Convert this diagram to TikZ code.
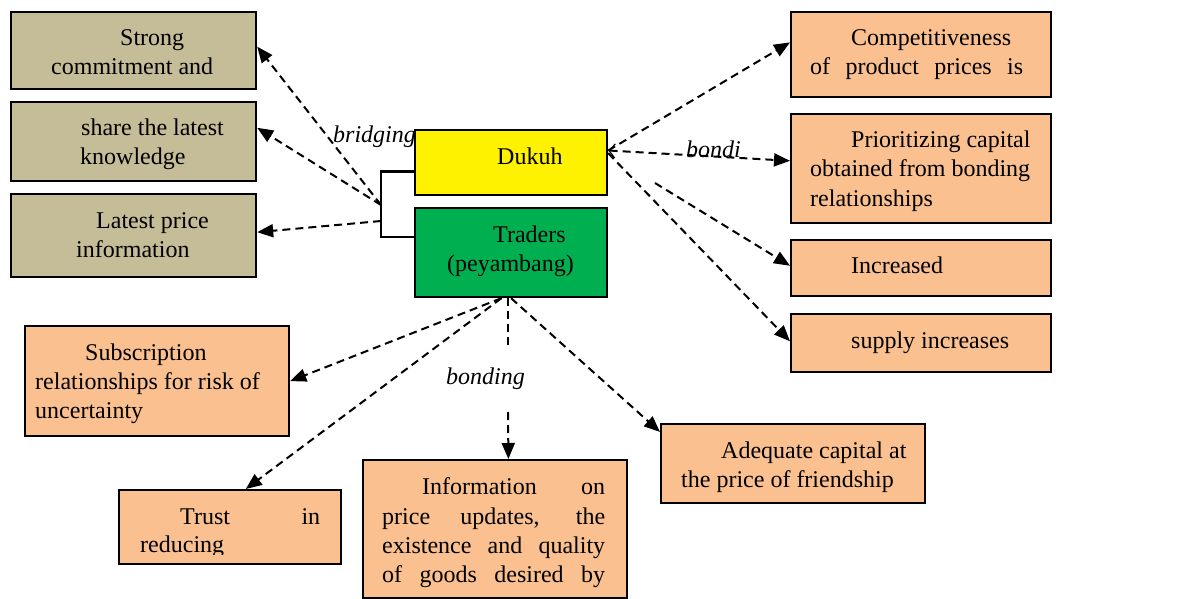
\documentclass[tikz,border=0pt]{standalone}
\usepackage{fontspec}
\setmainfont{Liberation Serif}
\usetikzlibrary{arrows.meta,calc}
\definecolor{tanfill}{HTML}{C4BD97}
\definecolor{orfill}{HTML}{FAC090}
\definecolor{grfill}{HTML}{00B050}
\begin{document}
\begin{tikzpicture}[x=1pt,y=-1pt,
  boxbase/.style={draw=black, line width=2.2pt, anchor=north west, inner sep=0pt},
  tanbox/.style={boxbase, fill=tanfill},
  orbox/.style={boxbase, fill=orfill},
  txt/.style={anchor=base west, inner sep=0pt, font=\fontsize{24}{29}\selectfont},
  itxt/.style={txt, font=\fontsize{24}{29}\selectfont\itshape},
  conn/.style={line width=2pt, dash pattern=on 8pt off 5pt, -{Triangle[length=16pt,width=13pt]}},
  plainconn/.style={line width=2pt, dash pattern=on 8pt off 5pt},
  brk/.style={line width=2.5pt}]
\useasboundingbox (0,0) rectangle (1184,599);

% left tan boxes
\node[tanbox, minimum width=245, minimum height=77] (L1) at (10,11) {};
\node[tanbox, minimum width=245, minimum height=79] (L2) at (10,101) {};
\node[tanbox, minimum width=245, minimum height=83] (L3) at (10,193) {};
\node[txt] (L1a) at (120,46) {Strong};
\node[txt] (L1b) at (51,75) {commitment and};
\node[txt] (L2a) at (81,136) {share the latest};
\node[txt] (L2b) at (80,165) {knowledge};
\node[txt] (L3a) at (96,228) {Latest price};
\node[txt] (L3b) at (76,257) {information};

% central boxes
\node[boxbase, fill=yellow, minimum width=192, minimum height=65] (Dukuh) at (414,129) {};
\node[boxbase, fill=grfill, minimum width=192, minimum height=89] (Traders) at (414,207) {};
\node[txt] (Da) at (497,165) {Dukuh};
\node[txt] (Ta) at (493,242) {Traders};
\node[txt] (Tb) at (447,271) {(peyambang)};

% right boxes
\node[orbox, minimum width=260, minimum height=85] (R1) at (790,11) {};
\node[orbox, minimum width=260, minimum height=109] (R2) at (790,113) {};
\node[orbox, minimum width=260, minimum height=56] (R3) at (790,239) {};
\node[orbox, minimum width=260, minimum height=58] (R4) at (790,313) {};
\node[txt] (R1a) at (851,46) {Competitiveness};
\node[txt] (R1b) at (810,75) {\makebox[213pt][s]{of product prices is}};
\node[txt] (R2a) at (851,148) {Prioritizing capital};
\node[txt] (R2b) at (810,177) {obtained from bonding};
\node[txt] (R2c) at (810,206) {relationships};
\node[txt] (R3a) at (851,273) {Increased};
\node[txt] (R4a) at (851,348) {supply increases};

% bottom boxes
\node[orbox, minimum width=264, minimum height=110] (B1) at (24,325) {};
\node[orbox, minimum width=222, minimum height=74] (B2) at (118,489) {};
\node[orbox, minimum width=264, minimum height=138] (B3) at (362,459) {};
\node[orbox, minimum width=264, minimum height=79] (B4) at (660,423) {};
\node[txt] (B1a) at (85,360) {Subscription};
\node[txt] (B1b) at (35,389) {relationships for risk of};
\node[txt] (B1c) at (35,418) {uncertainty};
\node[txt] (B2a) at (180,524) {\makebox[140pt][s]{Trust in}};
\begin{scope}
\clip (118,489) rectangle (340,554);
\node[txt] (B2b) at (140,552) {reducing};
\end{scope}
\node[txt] (B3a) at (422,494) {\makebox[183pt][s]{Information on}};
\node[txt] (B3b) at (382,524) {\makebox[223pt][s]{price updates, the}};
\node[txt] (B3c) at (382,553) {\makebox[223pt][s]{existence and quality}};
\node[txt] (B3d) at (382,582) {\makebox[223pt][s]{of goods desired by}};
\node[txt] (B4a) at (721,458) {Adequate capital at};
\node[txt] (B4b) at (681,487) {the price of friendship};

% labels
\node[itxt] (lbridging) at (333,143) {bridging};
\node[itxt] (lbondi) at (686,158) {bondi};
\node[itxt] (lbonding) at (446,384) {bonding};

% bracket
\coordinate (dk) at ($(Dukuh.north west)!0.63!(Dukuh.south west)$);
\coordinate (tr) at ($(Traders.north west)!0.33!(Traders.south west)$);
\draw[brk] (dk) -- ++(-33,0) |- (tr);
\coordinate (bk1) at (381,205);
\coordinate (bk2) at (381,221);

% left arrows
\draw[conn] (bk1) -- ($(L1.north east)!0.45!(L1.south east)$);
\draw[conn] (bk1) -- ($(L2.north east)!0.33!(L2.south east)$);
\draw[conn] (bk2) -- ($(L3.north east)!0.46!(L3.south east)$);

% right arrows
\coordinate (de) at ($(Dukuh.north east)!0.32!(Dukuh.south east)$);
\coordinate (de2) at ($(Dukuh.north east)!0.36!(Dukuh.south east)$);
\coordinate (r3s) at (655,183);
\draw[conn] (de) -- ($(R1.north west)!0.36!(R1.south west)$);
\draw[plainconn, arrows={Straight Barb[length=6pt,width=14pt,line width=1.2pt]-Triangle[length=16pt,width=13pt]}] (de) -- ($(R2.north west)!0.43!(R2.south west)$);
\draw[conn] (r3s) -- ($(R3.north west)!0.46!(R3.south west)$);
\draw[conn] (de2) -- ($(R4.north west)!0.47!(R4.south west)$);

% bottom arrows
\coordinate (ts1) at ($(Traders.south west)!0.45!(Traders.south east)$);
\coordinate (ts2) at ($(Traders.south west)!0.484!(Traders.south east)$);
\draw[conn] (ts1) -- (B1.east);
\draw[conn] (ts1) -- ($(B2.north west)!0.57!(B2.north east)$);
\coordinate (g1) at (ts2 |- 0,348);
\coordinate (g2) at (ts2 |- 0,412);
\draw[plainconn] (ts2) -- (g1);
\draw[conn] (g2) -- ($(B3.north west)!0.55!(B3.north east)$);
\draw[conn] (Traders.south) -- ($(B4.north west)!0.11!(B4.south west)$);
\end{tikzpicture}
\end{document}
